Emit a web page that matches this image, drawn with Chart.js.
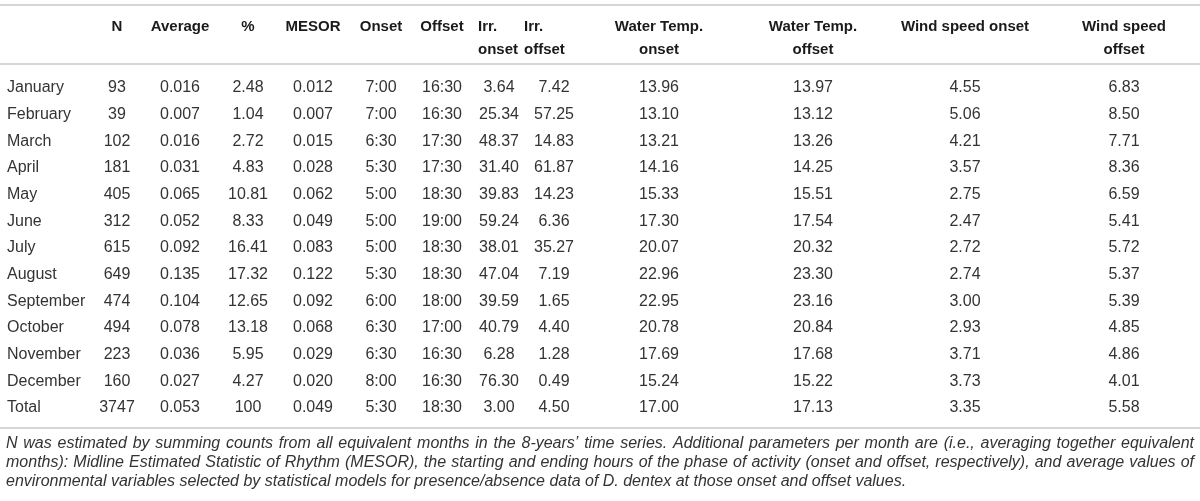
<!DOCTYPE html>
<html>
<head>
<meta charset="utf-8">
<script src="https://cdn.jsdelivr.net/npm/chart.js@4.4.0/dist/chart.umd.min.js"></script>
<style>
  html, body { margin: 0; padding: 0; background: #fff; }
  #wrap { width: 1200px; height: 501px; position: relative; }
</style>
</head>
<body>
<div id="wrap"><canvas id="ChartTable"></canvas></div>
<script>
// table values, one array per column
var months = ['January', 'February', 'March', 'April', 'May', 'June', 'July', 'August',
    'September', 'October', 'November', 'December', 'Total'];
var nCount = [93, 39, 102, 181, 405, 312, 615, 649, 474, 494, 223, 160, 3747];
var average = [0.016, 0.007, 0.016, 0.031, 0.065, 0.052, 0.092, 0.135, 0.104, 0.078, 0.036, 0.027, 0.053];
var percent = [2.48, 1.04, 2.72, 4.83, 10.81, 8.33, 16.41, 17.32, 12.65, 13.18, 5.95, 4.27, 100];
var mesor = [0.012, 0.007, 0.015, 0.028, 0.062, 0.049, 0.083, 0.122, 0.092, 0.068, 0.029, 0.020, 0.049];
var onset = ['7:00', '7:00', '6:30', '5:30', '5:00', '5:00', '5:00', '5:30', '6:00', '6:30', '6:30', '8:00', '5:30'];
var offset = ['16:30', '16:30', '17:30', '17:30', '18:30', '19:00', '18:30', '18:30', '18:00', '17:00', '16:30', '16:30', '18:30'];
var irrOnset = [3.64, 25.34, 48.37, 31.40, 39.83, 59.24, 38.01, 47.04, 39.59, 40.79, 6.28, 76.30, 3.00];
var irrOffset = [7.42, 57.25, 14.83, 61.87, 14.23, 6.36, 35.27, 7.19, 1.65, 4.40, 1.28, 0.49, 4.50];
var waterOnset = [13.96, 13.10, 13.21, 14.16, 15.33, 17.30, 20.07, 22.96, 22.95, 20.78, 17.69, 15.24, 17.00];
var waterOffset = [13.97, 13.12, 13.26, 14.25, 15.51, 17.54, 20.32, 23.30, 23.16, 20.84, 17.68, 15.22, 17.13];
var windOnset = [4.55, 5.06, 4.21, 3.57, 2.75, 2.47, 2.72, 2.74, 3.00, 2.93, 3.71, 3.73, 3.35];
var windOffset = [6.83, 8.50, 7.71, 8.36, 6.59, 5.41, 5.72, 5.37, 5.39, 4.85, 4.86, 4.01, 5.58];

var headers = [[''], ['N'], ['Average'], ['%'], ['MESOR'], ['Onset'], ['Offset'],
    ['Irr.', 'onset'], ['Irr.', 'offset'], ['Water Temp.', 'onset'], ['Water Temp.', 'offset'],
    ['Wind speed onset'], ['Wind speed', 'offset']];

var footnote = [
    'N was estimated by summing counts from all equivalent months in the 8-years\u2019 time series. Additional parameters per month are (i.e., averaging together equivalent',
    'months): Midline Estimated Statistic of Rhythm (MESOR), the starting and ending hours of the phase of activity (onset and offset, respectively), and average values of',
    'environmental variables selected by statistical models for presence/absence data of D. dentex at those onset and offset values.'
];

function fixed(d) {
    return function (v) { return v.toFixed(d); };
}
function asText(v) { return String(v); }
function pct(v) { return Number.isInteger(v) ? String(v) : v.toFixed(2); }

var columns = [
    { values: months, fmt: asText },
    { values: nCount, fmt: asText },
    { values: average, fmt: fixed(3) },
    { values: percent, fmt: pct },
    { values: mesor, fmt: fixed(3) },
    { values: onset, fmt: asText },
    { values: offset, fmt: asText },
    { values: irrOnset, fmt: fixed(2) },
    { values: irrOffset, fmt: fixed(2) },
    { values: waterOnset, fmt: fixed(2) },
    { values: waterOffset, fmt: fixed(2) },
    { values: windOnset, fmt: fixed(2) },
    { values: windOffset, fmt: fixed(2) }
];

// layout (pixels)
var W = 1200, H = 501;
var colX = [7, 117, 180, 248, 313, 381, 442, 499, 554, 659, 813, 965, 1124];
var headLeft = { 7: 478, 8: 524 };
var firstRowY = 88, rowH = 26.67;
var topRule = 5, headRule = 64, bottomRule = 428;
var headY1 = 27, headY2 = 50;
var noteY = [444, 463, 482];

var bodyFont = '16px "Liberation Sans", Arial, sans-serif';
var headFont = 'bold 15px "Liberation Sans", Arial, sans-serif';
var noteFont = 'italic 16px "Liberation Sans", Arial, sans-serif';

var mDataSets = [];
$each(columns, function (c, col) {
    var pts = [];
    $each(col.values, function (r, v) {
        pts.push({ x: colX[c], y: r, label: col.fmt(v) });
    });
    mDataSets.push({
        label: headers[c].join(' '),
        data: pts,
        pointRadius: 0,
        pointHoverRadius: 0,
        showLine: false,
        align: c === 0 ? 'left' : 'center'
    });
});

function $each(arr, fn) {
    for (var i = 0; i < arr.length; i++) fn(i, arr[i]);
}

function drawRule(ctx, y) {
    ctx.save();
    ctx.strokeStyle = '#d6d6d6';
    ctx.lineWidth = 2;
    ctx.beginPath();
    ctx.moveTo(0, y);
    ctx.lineTo(W, y);
    ctx.stroke();
    ctx.restore();
}

function drawJustified(ctx, text, x0, x1, y) {
    var words = text.split(' ');
    var total = 0;
    $each(words, function (i, w) { total += ctx.measureText(w).width; });
    var gap = (x1 - x0 - total) / (words.length - 1);
    var x = x0;
    $each(words, function (i, w) {
        ctx.fillText(w, x, y);
        x += ctx.measureText(w).width + gap;
    });
}

var tablePlugin = {
    id: 'tablePlugin',
    afterDatasetsDraw: function (chart) {
        var ctx = chart.ctx;
        var ys = chart.scales.y;
        var xs = chart.scales.x;
        ctx.save();
        ctx.textBaseline = 'middle';

        drawRule(ctx, topRule);
        drawRule(ctx, headRule);
        drawRule(ctx, bottomRule);

        // header
        ctx.font = headFont;
        ctx.fillStyle = '#1a1a1a';
        $each(headers, function (c, lines) {
            var left = headLeft[c];
            ctx.textAlign = left ? 'left' : 'center';
            var hx = left ? left : xs.getPixelForValue(colX[c]);
            $each(lines, function (l, t) {
                ctx.fillText(t, hx, l === 0 ? headY1 : headY2);
            });
        });

        // cells
        ctx.font = bodyFont;
        ctx.fillStyle = '#333333';
        chart.data.datasets.forEach(function (ds, di) {
            var meta = chart.getDatasetMeta(di);
            ctx.textAlign = ds.align;
            meta.data.forEach(function (el, i) {
                ctx.fillText(ds.data[i].label, el.x, el.y);
            });
        });

        // footnote
        ctx.font = noteFont;
        ctx.textAlign = 'left';
        ctx.fillStyle = '#333333';
        drawJustified(ctx, footnote[0], 6, 1194, noteY[0]);
        drawJustified(ctx, footnote[1], 6, 1194, noteY[1]);
        ctx.fillText(footnote[2], 6, noteY[2]);
        ctx.restore();
    }
};

var ctx = document.getElementById('ChartTable').getContext('2d');
var chart = new Chart(ctx, {
    type: 'scatter',
    data: { datasets: mDataSets },
    options: {
        responsive: true,
        maintainAspectRatio: false,
        animation: false,
        layout: { padding: 0 },
        plugins: { legend: { display: false }, tooltip: { enabled: false } },
        scales: {
            x: { type: 'linear', display: false, min: 0, max: W },
            y: {
                type: 'linear', display: false, reverse: true,
                min: -firstRowY / rowH,
                max: (H - firstRowY) / rowH
            }
        }
    },
    plugins: [tablePlugin]
});
</script>
</body>
</html>
